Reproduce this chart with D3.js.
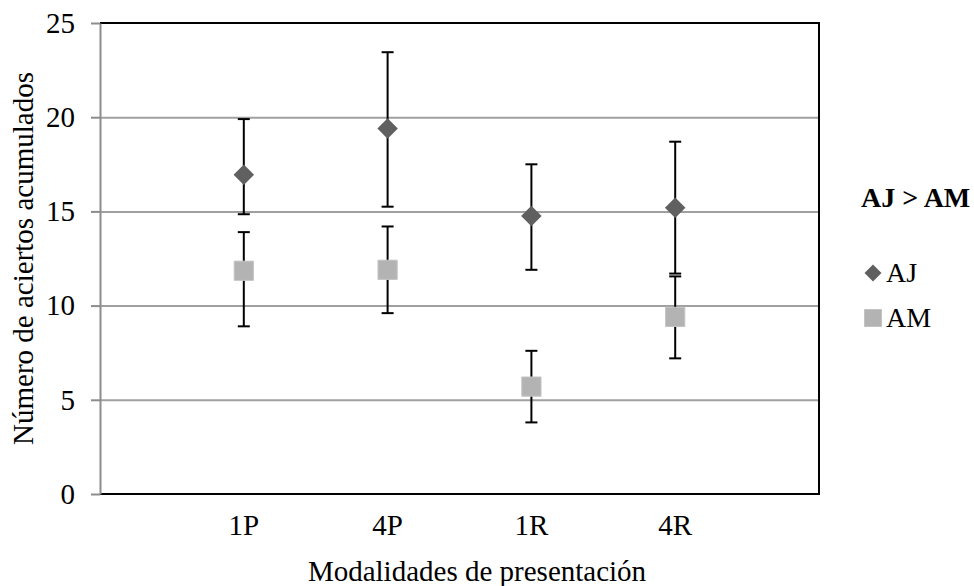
<!DOCTYPE html>
<head>
  <meta charset="utf-8">
  <title>Número de aciertos acumulados por modalidad</title>
  <style>
    body { margin: 0; background: #fff; }
    text { font-family: "Liberation Serif", "Times New Roman", serif; fill: #000; }
  </style>
  <script src="https://cdn.jsdelivr.net/npm/d3@7/dist/d3.min.js"></script>
</head>
<body>
  <script>
    // data
    var categories = ["1P", "4P", "1R", "4R"];
    var ajMean = [16.95, 19.4, 14.75, 15.2];
    var ajLow  = [14.85, 15.25, 11.9, 11.7];
    var ajHigh = [19.9, 23.45, 17.5, 18.7];
    var amMean = [11.85, 11.9, 5.7, 9.4];
    var amLow  = [8.9, 9.6, 3.8, 7.2];
    var amHigh = [13.9, 14.2, 7.6, 11.55];
    var yTicks = [0, 5, 10, 15, 20, 25];

    var width = 974, height = 586;
    var margin = {top: 23, right: 155, bottom: 92, left: 100};
    var plotW = width - margin.left - margin.right;
    var plotH = height - margin.top - margin.bottom;

    var svg = d3.select("body").append("svg")
      .attr("width", width)
      .attr("height", height);

    var x = d3.scaleLinear().domain([0, categories.length + 1]).range([margin.left, margin.left + plotW]);
    var y = d3.scaleLinear().domain([0, 25]).range([margin.top + plotH, margin.top]);

    // gridlines
    svg.append("g")
      .attr("transform", "translate(" + margin.left + ",0)")
      .call(d3.axisLeft(y).tickValues([5, 10, 15, 20]).tickSize(-plotW).tickFormat(""))
      .call(g => g.select(".domain").remove())
      .call(g => g.selectAll("line").attr("stroke", "#a0a0a0").attr("stroke-width", 2));

    // frame: top, right, bottom black
    svg.append("path")
      .attr("d", "M" + margin.left + "," + y(25) + "H" + (margin.left + plotW) + "V" + y(0) + "H" + margin.left)
      .attr("fill", "none")
      .attr("stroke", "#000")
      .attr("stroke-width", 2);

    // y axis (grey)
    var yAxis = svg.append("g")
      .attr("transform", "translate(" + margin.left + ",0)")
      .call(d3.axisLeft(y).tickValues(yTicks).tickSize(9).tickPadding(16).tickSizeOuter(0));
    yAxis.select(".domain").attr("stroke", "#8c8c8c").attr("stroke-width", 2);
    yAxis.selectAll("line").attr("stroke", "#8c8c8c").attr("stroke-width", 2);
    yAxis.selectAll("text")
      .attr("font-size", "29px")
      .attr("font-family", "'Liberation Serif', 'Times New Roman', serif")
      .attr("fill", "#000");

    // x category labels
    svg.append("g").selectAll("text")
      .data(categories)
      .enter().append("text")
        .attr("x", (d, i) => x(i + 1))
        .attr("y", 535)
        .attr("text-anchor", "middle")
        .attr("font-size", "29px")
        .text(d => d);

    // error bars
    function errorBars(lo, hi) {
      var g = svg.append("g").attr("stroke", "#000").attr("stroke-width", 2);
      categories.forEach(function (c, i) {
        var cx = x(i + 1);
        g.append("line").attr("x1", cx).attr("x2", cx).attr("y1", y(lo[i])).attr("y2", y(hi[i]));
        g.append("line").attr("x1", cx - 6).attr("x2", cx + 6).attr("y1", y(lo[i])).attr("y2", y(lo[i]));
        g.append("line").attr("x1", cx - 6).attr("x2", cx + 6).attr("y1", y(hi[i])).attr("y2", y(hi[i]));
      });
    }
    errorBars(ajLow, ajHigh);
    errorBars(amLow, amHigh);

    var diamond = d3.symbol().type(d3.symbolSquare).size(210);
    var square = d3.symbol().type(d3.symbolSquare).size(370);

    svg.append("g").selectAll("path")
      .data(ajMean)
      .enter().append("path")
        .attr("d", diamond)
        .attr("transform", (d, i) => "translate(" + x(i + 1) + "," + y(d) + ") rotate(45)")
        .attr("fill", "#606060");

    svg.append("g").selectAll("path")
      .data(amMean)
      .enter().append("path")
        .attr("d", square)
        .attr("transform", (d, i) => "translate(" + x(i + 1) + "," + y(d) + ")")
        .attr("fill", "#b3b3b3")
        .attr("stroke", "#c4c4c4")
        .attr("stroke-width", 1);

    // axis titles
    svg.append("text")
      .attr("x", 477)
      .attr("y", 581)
      .attr("text-anchor", "middle")
      .attr("font-size", "29px")
      .text("Modalidades de presentación");

    svg.append("text")
      .attr("transform", "translate(33," + (margin.top + plotH / 2) + ") rotate(-90)")
      .attr("text-anchor", "middle")
      .attr("font-size", "29px")
      .text("Número de aciertos acumulados");

    // legend
    svg.append("text")
      .attr("x", 861)
      .attr("y", 207)
      .attr("font-size", "28px")
      .attr("font-weight", "bold")
      .text("AJ > AM");

    svg.append("path")
      .attr("d", d3.symbol().type(d3.symbolSquare).size(145))
      .attr("transform", "translate(873,273) rotate(45)")
      .attr("fill", "#606060");
    svg.append("text")
      .attr("x", 886)
      .attr("y", 282)
      .attr("font-size", "28px")
      .text("AJ");

    svg.append("path")
      .attr("d", d3.symbol().type(d3.symbolSquare).size(310))
      .attr("transform", "translate(873,318)")
      .attr("fill", "#b3b3b3");
    svg.append("text")
      .attr("x", 886)
      .attr("y", 327)
      .attr("font-size", "28px")
      .text("AM");
  </script>
</body>
